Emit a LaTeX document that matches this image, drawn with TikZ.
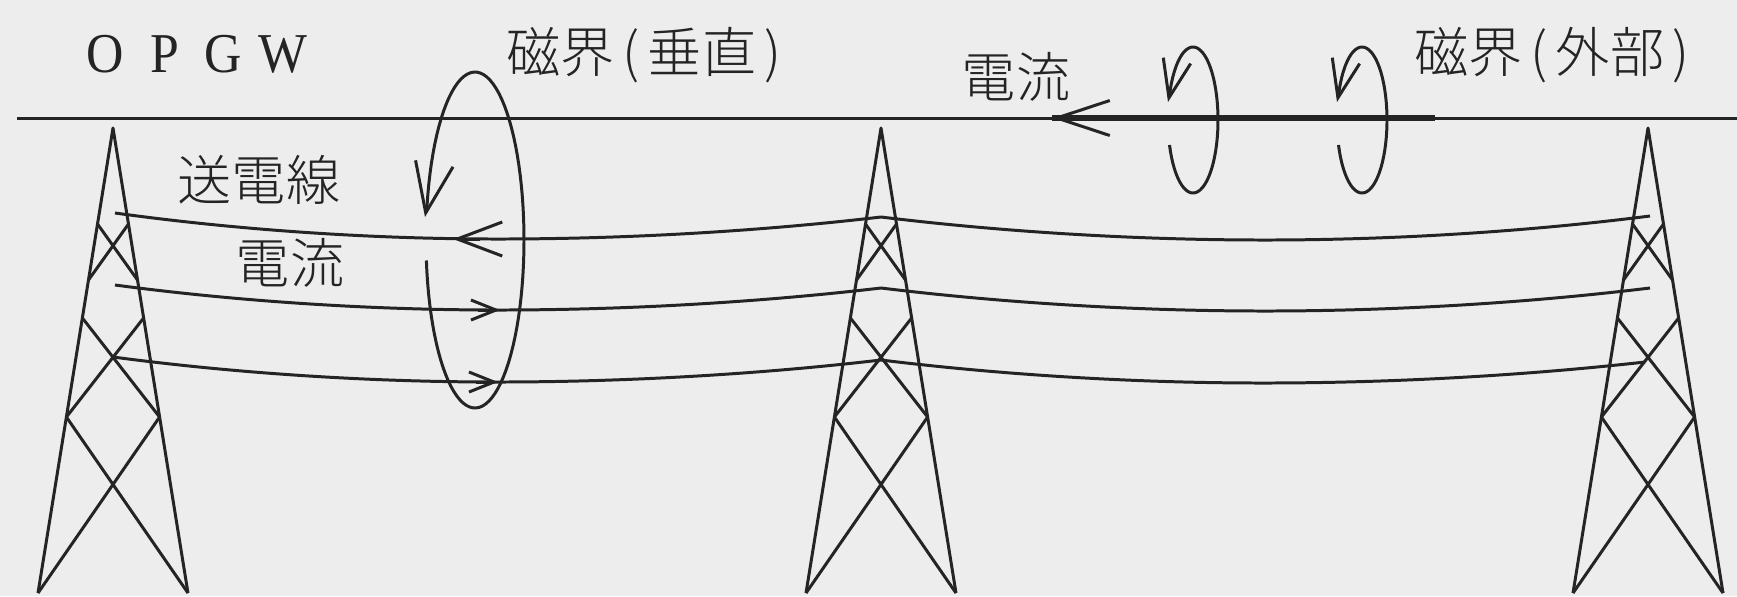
\documentclass[tikz,border=0pt]{standalone}
\usepackage{fontspec}
\usepackage{graphicx}
\usetikzlibrary{arrows.meta}
\newfontfamily\jpfont{Noto Sans CJK JP Light}
\newfontfamily\capsfont{Liberation Serif}
\definecolor{ink}{RGB}{36,36,36}
\definecolor{paper}{RGB}{237,237,238}
% narrow cells for the parentheses and the spaced capitals
\newcommand\parencell[1]{\makebox[0.33cm]{#1}}
\newcommand\capcell[1]{\makebox[0.59cm]{\scalebox{0.92}[1]{#1}}}

\begin{document}
\begin{tikzpicture}[x=0.01cm, y=-0.01cm,
  line/.style={draw=ink, line width=0.85pt, line join=round},
  groundwire/.style={draw=ink, line width=1.8pt},
  jplabel/.style={inner sep=0pt, text=ink, font=\jpfont\fontsize{15.4}{18}\selectfont,
                  text height=12.3pt, text depth=0.8pt},
  latinlabel/.style={inner sep=0pt, text=ink, font=\capsfont\fontsize{16}{19}\selectfont},
  bigbarb/.style={-{Straight Barb[length=0.45cm, width=0.34cm]}},
  smallbarb/.style={-{Straight Barb[length=0.25cm, width=0.2cm]}},
  ringbarb/.style={-{Straight Barb[length=0.5cm, width=0.38cm]}},
  loopbarb/.style={-{Straight Barb[length=0.38cm, width=0.28cm]}},
  topbarb/.style={-{Straight Barb[length=0.53cm, width=0.35cm]}}
]
% canvas
\fill[paper] (0,0) rectangle (1737,596);
\useasboundingbox (0,0) rectangle (1737,596);

% overhead ground wire (OPGW)
\coordinate (gwStart) at (17,118);
\coordinate (gwStop) at (1737,118);
\draw[line] (gwStart) -- (gwStop);

% towers: legs and three X-braced panels
\foreach \ax in {113,881,1648} {
  \begin{scope}[shift={(\ax,128)}]
    \draw[line] (-75,465) -- (0,0) -- (75,465);
    \draw[line] (-15.5,96) -- (24.5,152) (15.5,96) -- (-24.5,152);
    \draw[line] (-30.6,190) -- (46.6,289) (30.6,190) -- (-46.6,289);
    \draw[line] (-46.6,289) -- (75,465) (46.6,289) -- (-75,465);
  \end{scope}
}

% phase conductors, sagging between the towers
\draw[line] (115,213) parabola bend (498,239) (881,217) parabola bend (1265,240) (1650,216);
\draw[line] (115,285) parabola bend (498,310) (881,288) parabola bend (1265,311) (1650,288);
\draw[line] (113,357) parabola bend (497,382) (881,360) parabola bend (1263,383) (1645,362);

% current direction on the conductors
\coordinate (w1from) at (480,239);  \coordinate (w1tip) at (453,239);
\coordinate (w2from) at (478,310);  \coordinate (w2tip) at (500,310);
\coordinate (w3from) at (476,382);  \coordinate (w3tip) at (498,382);
\draw[line, bigbarb] (w1from) -- (w1tip);
\draw[line, smallbarb] (w2from) -- (w2tip);
\draw[line, smallbarb] (w3from) -- (w3tip);

% field loop around the conductors
\coordinate (ringTip) at (425,217);
\draw[line, ringbarb]
  plot[domain=-173:168, samples=90] ({475+49*cos(\x)}, {240-168*sin(\x)}) -- (ringTip);

% induced current on the ground wire
\coordinate (gwTip) at (1052,118);
\coordinate (gwEnd) at (1435,118);
\coordinate (gwTail) at (1090,118);
\draw[groundwire] (gwTip) -- (gwEnd);
\draw[line, topbarb] (gwTail) -- (gwTip);

% external field loops around the ground wire
\foreach \cx in {1193,1362} {
  \draw[line, loopbarb]
    plot[domain=-160:160, samples=60] ({\cx+25*cos(\x)}, {120-73*sin(\x)}) -- ({\cx-25},102);
}

% labels
\node[latinlabel] (opgw) at (194,54) {\capcell{O}\capcell{P}\capcell{G}\capcell{W}};
\node[jplabel] (fieldV) at (648,52) {磁界\parencell{(}垂直\parencell{)}};
\node[jplabel] (fieldX) at (1556,52) {磁界\parencell{(}外部\parencell{)}};
\node[jplabel] (curTop) at (1016,77) {電流};
\node[jplabel] (lineLbl) at (259,180) {送電線};
\node[jplabel] (curLeft) at (290,263) {電流};
\end{tikzpicture}
\end{document}
